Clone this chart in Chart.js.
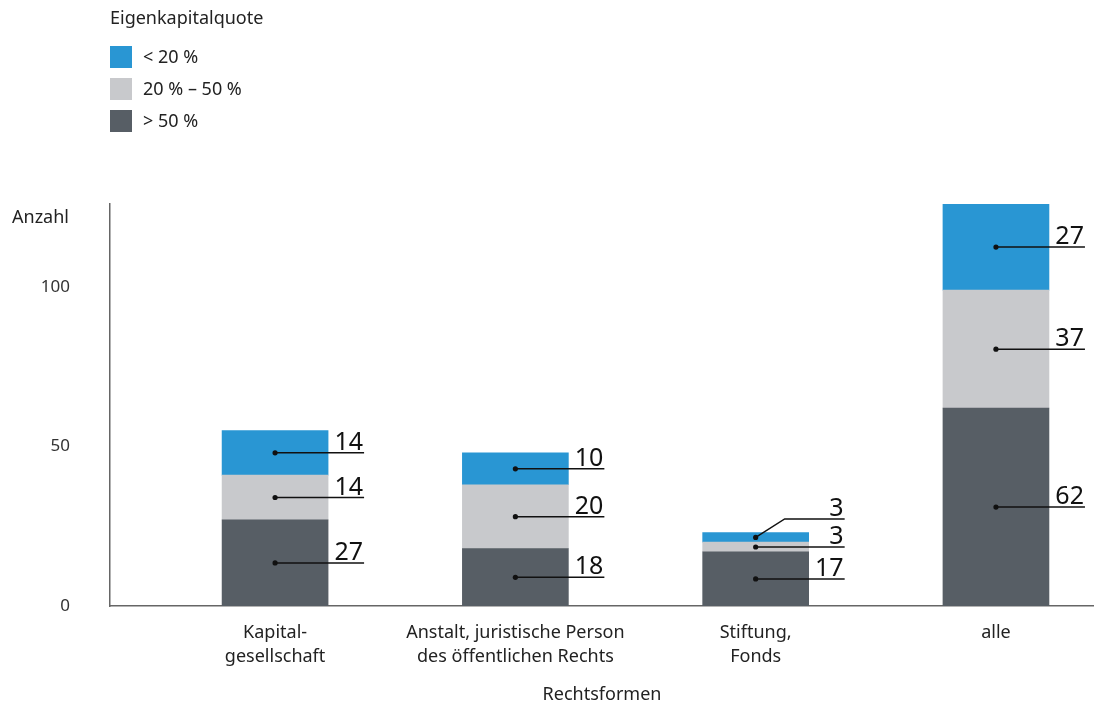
<!DOCTYPE html>
<html>
<head>
<meta charset="utf-8">
<script src="https://cdn.jsdelivr.net/npm/chart.js@4"></script>
<style>
  body { margin: 0; background: #fff; font-family: "Noto Sans", sans-serif; }
  #wrap { position: relative; width: 1094px; height: 706px; }
  #legend { position: absolute; left: 0; top: 0; font-size: 18px; color: #222; }
  #legend .title { position: absolute; left: 110px; top: 5px; white-space: nowrap; }
  #legend .item { position: absolute; left: 110px; height: 22px; white-space: nowrap; }
  #legend .box { position: absolute; left: 0; top: 0; width: 22px; height: 22px; }
  #legend .txt { position: absolute; left: 33px; top: -2px; line-height: 24px; }
</style>
</head>
<body>
<div id="wrap">
  <canvas id="chart" width="1094" height="706"></canvas>
  <div id="legend"></div>
</div>
<script>
var categories = [['Kapital-', 'gesellschaft'], ['Anstalt, juristische Person', 'des öffentlichen Rechts'], ['Stiftung,', 'Fonds'], 'alle'];
var seriesNames = ['< 20 %', '20 % \u2013 50 %', '> 50 %'];
var under20 = [14, 10, 3, 27];
var from20to50 = [14, 20, 3, 37];
var over50 = [27, 18, 17, 62];
var yTicks = [0, 50, 100];

var colors = ['#2996d3', '#c8c9cc', '#575e65'];
var fontFamily = '"Noto Sans", sans-serif';

function toPoints(arr) {
    return arr.map(function (v, i) { return {x: i, y: v}; });
}

// stacked bottom to top
var datasets = [
    {label: seriesNames[2], data: toPoints(over50), backgroundColor: colors[2]},
    {label: seriesNames[1], data: toPoints(from20to50), backgroundColor: colors[1]},
    {label: seriesNames[0], data: toPoints(under20), backgroundColor: colors[0]}
];

// legend (html)
var legendHtml = '<div class="title">Eigenkapitalquote</div>';
for (var i = 0; i < seriesNames.length; i++) {
    legendHtml += '<div class="item" style="top:' + (46 + i * 32) + 'px"><div class="box" style="background:' + colors[i] + '"></div><div class="txt">' + seriesNames[i].replace('<', '&lt;').replace('>', '&gt;') + '</div></div>';
}
document.getElementById('legend').innerHTML = legendHtml;

var valueLabels = {
    id: 'valueLabels',
    afterDatasetsDraw: function (chart) {
        var ctx = chart.ctx;
        ctx.save();
        ctx.strokeStyle = '#111';
        ctx.fillStyle = '#111';
        ctx.lineWidth = 1.5;
        ctx.font = '25px ' + fontFamily;
        ctx.textAlign = 'right';
        ctx.textBaseline = 'alphabetic';
        for (var i = 0; i < categories.length; i++) {
            var prevY = null;
            for (var d = 0; d < chart.data.datasets.length; d++) {
                var el = chart.getDatasetMeta(d).data[i];
                var val = chart.data.datasets[d].data[i].y;
                var midY = (el.y + el.base) / 2;
                var labelY = midY;
                if (prevY !== null && prevY - labelY < 26) labelY = prevY - 28;
                var lineEnd = el.x + el.width / 2 + 36;
                ctx.beginPath();
                ctx.arc(el.x, midY, 2.6, 0, Math.PI * 2);
                ctx.fill();
                ctx.beginPath();
                ctx.moveTo(el.x, midY);
                if (labelY !== midY) ctx.lineTo(lineEnd - 60, labelY);
                ctx.lineTo(lineEnd, labelY);
                ctx.stroke();
                ctx.fillText(String(val), lineEnd - 1, labelY - 3);
                prevY = labelY;
            }
        }
        // y axis caption
        ctx.font = '18px ' + fontFamily;
        ctx.fillStyle = '#222';
        ctx.textAlign = 'left';
        ctx.textBaseline = 'middle';
        ctx.fillText('Anzahl', 12, 218);
        ctx.restore();
    }
};

new Chart(document.getElementById('chart').getContext('2d'), {
    type: 'bar',
    data: {datasets: datasets},
    options: {
        responsive: false,
        animation: false,
        layout: {padding: {top: 204, left: 0, right: 0, bottom: 0}},
        plugins: {legend: {display: false}, tooltip: {enabled: false}},
        datasets: {bar: {barThickness: 106}},
        scales: {
            x: {
                type: 'linear',
                stacked: true,
                offset: false,
                min: -0.687,
                max: 3.408,
                grid: {display: false, drawTicks: false},
                border: {display: true, color: '#666', width: 1.5},
                afterBuildTicks: function (scale) {
                    scale.ticks = categories.map(function (c, i) { return {value: i}; });
                },
                afterFit: function (scale) { scale.height = 100; },
                ticks: {
                    padding: 15,
                    color: '#222',
                    font: {family: fontFamily, size: 18, lineHeight: 1.33},
                    maxRotation: 0,
                    autoSkip: false,
                    callback: function (v) { return categories[v]; }
                },
                title: {
                    display: true,
                    text: 'Rechtsformen',
                    color: '#222',
                    font: {family: fontFamily, size: 18},
                    padding: {top: 0, bottom: 0}
                }
            },
            y: {
                stacked: true,
                min: 0,
                max: 126,
                grid: {display: false, drawTicks: false},
                border: {display: true, color: '#666', width: 1.5},
                afterBuildTicks: function (scale) {
                    scale.ticks = yTicks.map(function (v) { return {value: v}; });
                },
                afterFit: function (scale) { scale.width = 110; },
                ticks: {
                    padding: 40,
                    color: '#333',
                    font: {family: fontFamily, size: 17}
                }
            }
        }
    },
    plugins: [valueLabels]
});
</script>
</body>
</html>
